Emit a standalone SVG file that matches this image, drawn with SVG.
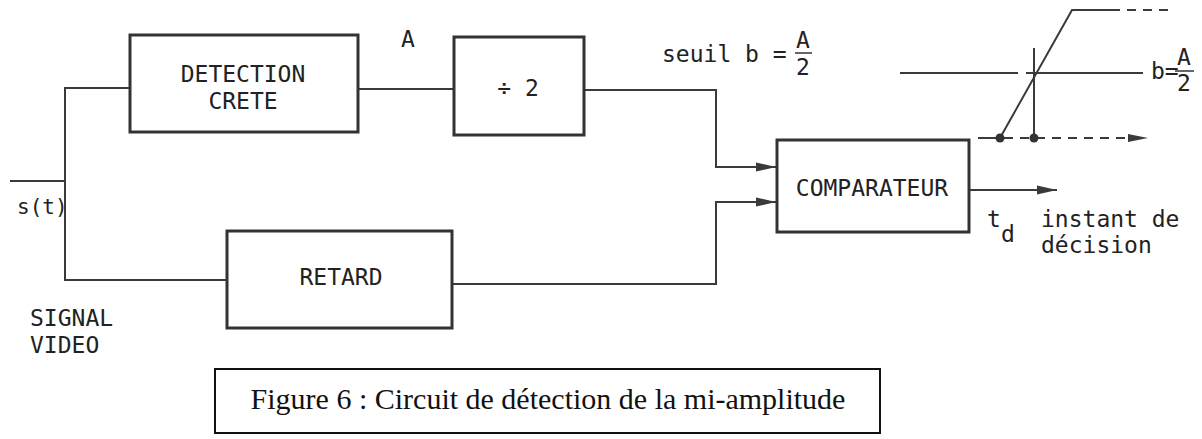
<svg xmlns="http://www.w3.org/2000/svg" width="1202" height="439" viewBox="0 0 1202 439">
  <style>
    .box { fill: #fff; stroke: #333; stroke-width: 3; }
    .wire { fill: none; stroke: #3a3a3a; stroke-width: 2; }
    .dash { fill: none; stroke: #3a3a3a; stroke-width: 2; stroke-dasharray: 9 7; }
    .mono { font-family: "DejaVu Sans Mono", "Liberation Mono", monospace; fill: #222; }
    .lbl { font-size: 23px; }
    .sm { font-size: 21px; }
    .cap { font-family: "Liberation Serif", "Times New Roman", serif; font-size: 30px; fill: #111; }
  </style>
  <defs>
    <marker id="arrow" markerUnits="userSpaceOnUse" markerWidth="22" markerHeight="12" refX="20" refY="5" orient="auto">
      <path d="M0,0.5 L20,5 L0,9.5 Z" fill="#3a3a3a"/>
    </marker>
  </defs>
  <rect width="1202" height="439" fill="#fff"/>

  <!-- connectors -->
  <g id="connectors">
    <path class="wire" d="M10,181 H65"/>
    <path class="wire" d="M65,181 V88 H130"/>
    <path class="wire" d="M65,181 V280 H227"/>
    <path class="wire" d="M358,89 H454"/>
    <path class="wire" d="M584,90 H716 V167 H776" marker-end="url(#arrow)"/>
    <path class="wire" d="M452,284 H716 V202 H776" marker-end="url(#arrow)"/>
    <path class="wire" d="M970,190 H1057" marker-end="url(#arrow)"/>
  </g>

  <!-- input labels -->
  <text class="mono sm" x="17" y="214">s(t)</text>
  <text class="mono lbl" x="30" y="326">SIGNAL</text>
  <text class="mono lbl" x="30" y="353">VIDEO</text>

  <g id="detection">
    <rect class="box" x="130" y="35" width="228" height="97"/>
    <text class="mono lbl" x="243" y="82" text-anchor="middle">DETECTION</text>
    <text class="mono lbl" x="243" y="109" text-anchor="middle">CRETE</text>
  </g>

  <text class="mono lbl" x="401" y="47">A</text>

  <g id="divide">
    <rect class="box" x="454" y="37" width="130" height="98"/>
    <text class="mono lbl" x="518" y="96" text-anchor="middle">÷ 2</text>
  </g>

  <g id="seuil">
    <text class="mono lbl" x="662" y="62">seuil b =</text>
    <text class="mono lbl" x="803" y="48" text-anchor="middle">A</text>
    <line x1="795" y1="53" x2="812" y2="53" stroke="#333" stroke-width="1.5"/>
    <text class="mono lbl" x="803" y="75" text-anchor="middle">2</text>
  </g>

  <g id="retard">
    <rect class="box" x="227" y="231" width="225" height="97"/>
    <text class="mono lbl" x="341" y="285" text-anchor="middle">RETARD</text>
  </g>

  <g id="comparateur">
    <rect class="box" x="777" y="140" width="192" height="92"/>
    <text class="mono lbl" x="872" y="196" text-anchor="middle">COMPARATEUR</text>
  </g>

  <!-- output labels -->
  <text class="mono lbl" x="987" y="227">t</text>
  <text class="mono lbl" x="1001" y="242">d</text>
  <text class="mono lbl" x="1041" y="227">instant de</text>
  <text class="mono lbl" x="1041" y="253">décision</text>

  <!-- threshold crossing sketch -->
  <g id="waveform">
    <path class="wire" d="M978,138 H1000 L1072,10 H1120" stroke-width="2.5"/>
    <path class="dash" d="M1127,10 H1170"/>
    <path class="wire" d="M900,73 H1018 M1026,73 H1143" stroke-width="2.5"/>
    <path class="wire" d="M1034,48 V138" stroke-width="2.5"/>
    <path class="dash" d="M1004,138 H1142"/>
    <path d="M1128,134 L1148,138 L1128,142 Z" fill="#3a3a3a"/>
    <circle cx="1000" cy="138" r="4.5" fill="#333"/>
    <circle cx="1034" cy="138" r="4.5" fill="#333"/>
    <text class="mono lbl" x="1151" y="79">b=</text>
    <text class="mono lbl" x="1184" y="65" text-anchor="middle">A</text>
    <line x1="1175" y1="71" x2="1194" y2="71" stroke="#333" stroke-width="1.5"/>
    <text class="mono lbl" x="1184" y="91" text-anchor="middle">2</text>
  </g>

  <!-- caption -->
  <g id="caption">
    <rect x="215" y="369" width="665" height="64" fill="#fff" stroke="#111" stroke-width="2"/>
    <text class="cap" x="548" y="409" text-anchor="middle">Figure 6 : Circuit de détection de la mi-amplitude</text>
  </g>
</svg>
